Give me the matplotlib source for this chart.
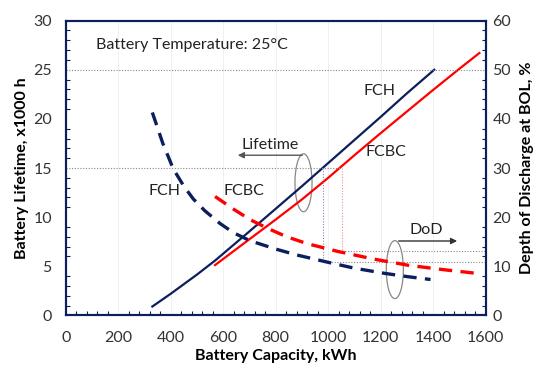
import numpy as np
import matplotlib
matplotlib.use("Agg")
import matplotlib.pyplot as plt
from matplotlib.patches import Ellipse

plt.rcParams["font.family"] = ["Lato", "DejaVu Sans"]

navy = "#0b1f5c"
red = "#ff0000"

# lifetime (x1000 h) vs capacity
fch_cap = [330, 400, 500, 570, 700, 800, 900, 1000, 1100, 1200, 1300, 1404]
fch_life = [0.9, 2.2, 4.15, 5.6, 8.55, 10.85, 13.15, 15.5, 17.85, 20.2, 22.6, 25.0]
fcbc_cap = [569, 700, 800, 900, 1000, 1100, 1200, 1300, 1400, 1500, 1576]
fcbc_life = [5.12, 7.75, 9.75, 11.8, 14.0, 16.3, 18.55, 20.75, 22.95, 25.1, 26.7]

# depth of discharge (%) vs capacity
fch_dod_cap = [330, 370, 410, 450, 486, 530, 588, 640, 702, 800, 880, 1000, 1100, 1216, 1300, 1390]
fch_dod = [41.3, 35.0, 29.8, 26.3, 23.7, 21.3, 18.7, 16.8, 15.2, 13.5, 12.3, 10.8, 9.6, 8.55, 7.9, 7.3]
fcbc_dod_cap = [569, 640, 702, 770, 842, 920, 1038, 1170, 1305, 1440, 1566]
fcbc_dod = [24.2, 21.6, 19.5, 17.7, 16.0, 14.6, 13.0, 11.5, 10.2, 9.3, 8.55]

fig = plt.figure(figsize=(5.5, 3.75), dpi=100)
ax = fig.add_axes([0.1195, 0.159, 0.7635, 0.786])
ax2 = ax.twinx()

ax.plot(fch_cap, fch_life, color=navy, lw=1.6)
ax.plot(fcbc_cap, fcbc_life, color=red, lw=1.6)
ax2.plot(fch_dod_cap, fch_dod, color=navy, lw=2.4, dashes=(4, 2.5))
ax2.plot(fcbc_dod_cap, fcbc_dod, color=red, lw=2.4, dashes=(4, 2.5))

ax.set_xlim(0, 1600)
ax.set_ylim(0, 30)
ax2.set_ylim(0, 60)
ax.set_xticks(range(0, 1601, 200))
ax.set_xticks(range(0, 1601, 40), minor=True)
ax.set_yticks(range(0, 31, 5))
ax.set_yticks(range(0, 31, 1), minor=True)
ax2.set_yticks(range(0, 61, 10))
ax2.set_yticks(range(0, 61, 2), minor=True)

for a in (ax, ax2):
    a.tick_params(which="both", direction="in", colors=navy, labelcolor="#333333",
                  labelsize=11.5)
    a.tick_params(which="major", length=0)
    a.tick_params(which="minor", length=3, width=0.8)
    for s in a.spines.values():
        s.set_color(navy)
        s.set_linewidth(1.5)
ax.tick_params(axis="x", pad=11)
ax.tick_params(axis="y", pad=10)
ax2.tick_params(axis="y", pad=5)

ax.grid(True, which="major", axis="x", color="#eeeeee", lw=0.6)
ax.set_axisbelow(True)

ax.set_xlabel("Battery Capacity, kWh", fontweight="bold", fontsize=11.5, labelpad=3)
ax.set_ylabel("Battery Lifetime, x1000 h", fontweight="bold", fontsize=11.5, labelpad=3)
ax2.set_ylabel("Depth of Discharge at BOL, %", fontweight="bold", fontsize=11.5, labelpad=6)

# guide lines
g = dict(color="#888888", lw=0.8, ls=(0, (1, 1.5)))
ax.plot([0, 1600], [25, 25], **g)
ax.plot([0, 1050], [15, 15], **g)
ax.plot([979, 979], [15, 5.4], color="#8888bb", lw=0.8, ls=(0, (1, 1.5)))
ax.plot([1051, 1051], [15, 6.55], color="#ff8888", lw=0.8, ls=(0, (1, 1.5)))
ax.plot([979, 1600], [5.4, 5.4], **g)
ax.plot([1051, 1600], [6.55, 6.55], **g)

# labels
ax.text(115, 27.5, "Battery Temperature: 25°C", fontsize=11.5, color="#222222", va="center")
ax.text(1197, 22.85, "FCH", fontsize=11.5, color="#222222", ha="center", va="center")
ax.text(1219, 16.6, "FCBC", fontsize=11.5, color="#222222", ha="center", va="center")
ax.text(377, 12.7, "FCH", fontsize=11.5, color="#222222", ha="center", va="center")
ax.text(680, 12.7, "FCBC", fontsize=11.5, color="#222222", ha="center", va="center")
ax.text(780, 17.3, "Lifetime", fontsize=11.5, color="#222222", ha="center", va="center")
ax.text(1375, 8.7, "DoD", fontsize=11.5, color="#222222", ha="center", va="center")

# ellipses with arrows
ax.add_patch(Ellipse((906, 13.5), 65, 5.9, fill=False, ec="#888888", lw=0.9))
ax.annotate("", xy=(645, 16.3), xytext=(912, 16.3),
            arrowprops=dict(arrowstyle="-|>", color="#555555", lw=1.0, mutation_scale=9))
ax.add_patch(Ellipse((1254, 4.66), 65, 5.9, fill=False, ec="#888888", lw=0.9))
ax.annotate("", xy=(1502, 7.57), xytext=(1258, 7.57),
            arrowprops=dict(arrowstyle="-|>", color="#333333", lw=1.0, mutation_scale=9))

fig.savefig("out.png", dpi=100)
